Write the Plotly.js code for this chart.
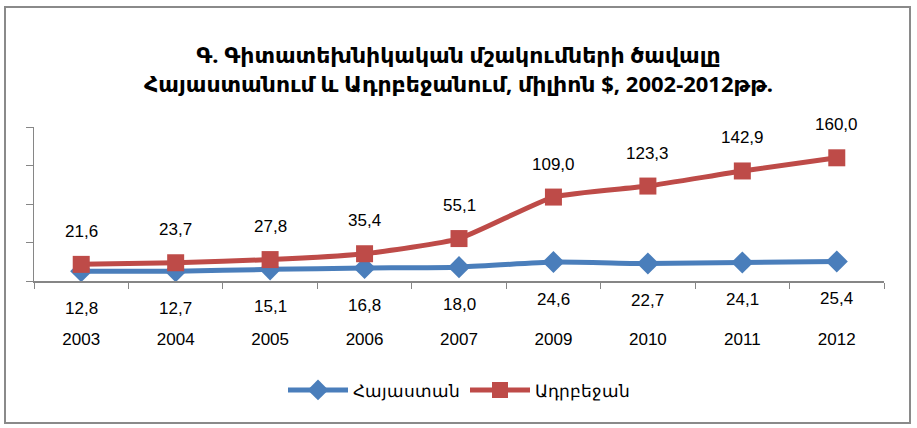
<!DOCTYPE html>
<html>
<head>
<meta charset="utf-8">
<script src="https://cdn.plot.ly/plotly-3.0.1.min.js"></script>
<style>
  html, body { margin: 0; padding: 0; background: #fff; }
  #wrap { position: relative; width: 917px; height: 428px; }
  #frame { position: absolute; left: 4px; top: 6px; width: 907px; height: 418px; border: 2px solid #8a8a8a; box-sizing: border-box; pointer-events: none; z-index: 5; }
  #chart { position: absolute; left: 0; top: 0; width: 917px; height: 428px; }
</style>
</head>
<body>
<div id="wrap">
  <div id="chart"></div>
  <div id="frame"></div>
</div>
<script>
const years = ["2003", "2004", "2005", "2006", "2007", "2009", "2010", "2011", "2012"];
const armenia = [12.8, 12.7, 15.1, 16.8, 18.0, 24.6, 22.7, 24.1, 25.4];
const azerbaijan = [21.6, 23.7, 27.8, 35.4, 55.1, 109.0, 123.3, 142.9, 160.0];
const seriesNames = ["Հայաստան", "Ադրբեջան"];
const titleLines = ["Գ. Գիտատեխնիկական մշակումների ծավալը", "Հայաստանում և Ադրբեջանում, միլիոն $, 2002-2012թթ."];

const BLUE = "#4a7ebb";
const RED = "#be4b48";
const fmt = v => v.toFixed(1).replace(".", ",");

const traces = [
  {
    x: years, y: armenia, name: seriesNames[0], type: "scatter", mode: "lines+markers",
    line: { color: BLUE, width: 5, shape: "spline", smoothing: 0.5 },
    marker: { symbol: "diamond", size: 17, color: BLUE }
  },
  {
    x: years, y: azerbaijan, name: seriesNames[1], type: "scatter", mode: "lines+markers",
    line: { color: RED, width: 5, shape: "spline", smoothing: 0.5 },
    marker: { symbol: "square", size: 17, color: RED }
  }
];

const annFont = { family: "Liberation Sans, Arial, sans-serif", size: 17, color: "#000" };
const annotations = [];
years.forEach((yr, i) => {
  annotations.push({ x: i, y: armenia[i], xref: "x", yref: "y", text: fmt(armenia[i]),
    showarrow: false, yshift: -37, font: annFont });
  annotations.push({ x: i, y: azerbaijan[i], xref: "x", yref: "y", text: fmt(azerbaijan[i]),
    showarrow: false, yshift: 33, font: annFont });
});

const layout = {
  width: 917, height: 428,
  margin: { l: 34, r: 33, t: 127, b: 147 },
  paper_bgcolor: "#fff", plot_bgcolor: "#fff",
  title: {
    text: "<b>" + titleLines.join("<br>") + "</b>",
    x: 0.5, xanchor: "center", y: 0.853, yanchor: "middle",
    font: { family: "Noto Sans, DejaVu Sans, sans-serif", size: 22, color: "#000" }
  },
  xaxis: {
    type: "category", tickson: "boundaries", ticks: "outside", ticklen: 6, tickcolor: "#868686",
    showline: true, linecolor: "#868686", linewidth: 1.5, showgrid: false, zeroline: false,
    tickfont: { family: "Liberation Sans, Arial, sans-serif", size: 17, color: "#000" },
    range: [-0.5, years.length - 0.5], ticklabelstandoff: 42, tickangle: 0, fixedrange: true
  },
  yaxis: {
    range: [0, 200], dtick: 50, ticks: "outside", ticklen: 7, tickcolor: "#868686",
    showticklabels: false, showline: true, linecolor: "#868686", linewidth: 1.5,
    showgrid: false, zeroline: false, fixedrange: true
  },
  showlegend: true,
  legend: {
    orientation: "h", x: 0.5, xanchor: "center", y: -0.71, yanchor: "middle",
    font: { family: "Liberation Sans, Arial, sans-serif", size: 17, color: "#000" },
    itemwidth: 60, tracegroupgap: 0
  },
  annotations: annotations
};

Plotly.newPlot("chart", traces, layout, { displayModeBar: false, staticPlot: true });
</script>
</body>
</html>
